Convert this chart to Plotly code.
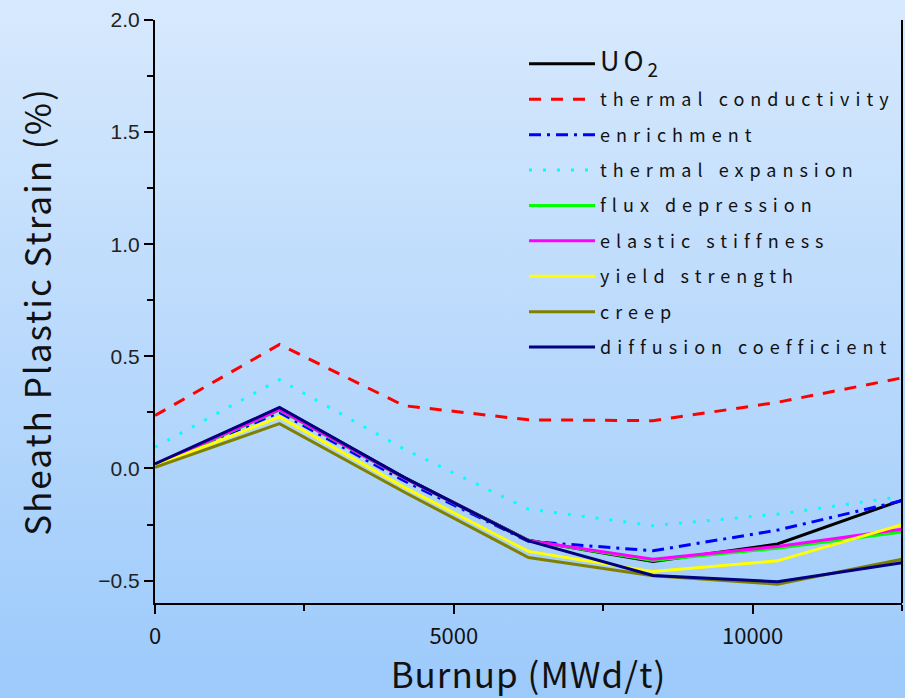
import base64
import plotly.graph_objects as go

# Burnup steps (MWd/t)
burnup = [0, 2083, 4167, 6250, 8333, 10417, 12500]

# Sheath plastic strain (%) for the reference case and each perturbed parameter
uo2 = [0.015, 0.270, -0.040, -0.320, -0.415, -0.337, -0.141]
thermal_conductivity = [0.236, 0.553, 0.280, 0.217, 0.213, 0.295, 0.404]
enrichment = [0.012, 0.250, -0.055, -0.325, -0.367, -0.275, -0.144]
thermal_expansion = [0.095, 0.396, 0.087, -0.181, -0.255, -0.204, -0.125]
flux_depression = [0.015, 0.260, -0.043, -0.322, -0.410, -0.356, -0.283]
elastic_stiffness = [0.018, 0.262, -0.042, -0.322, -0.405, -0.348, -0.271]
yield_strength = [0.010, 0.230, -0.083, -0.370, -0.460, -0.412, -0.251]
creep = [0.005, 0.200, -0.105, -0.397, -0.478, -0.516, -0.405]
diffusion_coefficient = [0.020, 0.272, -0.040, -0.323, -0.477, -0.505, -0.420]

y_ticks = [-0.5, 0.0, 0.5, 1.0, 1.5, 2.0]
y_tick_text = ["\u22120.5", "0.0", "0.5", "1.0", "1.5", "2.0"]
x_ticks = [0, 5000, 10000]
x_tick_text = ["0", "5000", "10000"]


def spaced(text, px):
    """Wrap a label so it is drawn with extra tracking between letters."""
    return f"<span style='letter-spacing:{px}px'>{text}</span>"


series = [
    ("<span style='font-size:27px;letter-spacing:4px'>UO<sub>2</sub></span>", uo2, "#000000", "solid"),
    (spaced("thermal conductivity", 6), thermal_conductivity, "#ff0000", "12px,10px"),
    (spaced("enrichment", 6), enrichment, "#0000ff", "12px,6px,3px,6px"),
    (spaced("thermal expansion", 6), thermal_expansion, "#00ffff", "3px,11px"),
    (spaced("flux depression", 6), flux_depression, "#00ff00", "solid"),
    (spaced("elastic stiffness", 6), elastic_stiffness, "#ff00ff", "solid"),
    (spaced("yield strength", 6), yield_strength, "#ffff00", "solid"),
    (spaced("creep", 6), creep, "#808000", "solid"),
    (spaced("diffusion coefficient", 6), diffusion_coefficient, "#000080", "solid"),
]

FONT = "Noto Sans CJK KR, Liberation Sans, Arial"

fig = go.Figure()
for i, (name, vals, color, dash) in enumerate(series):
    fig.add_trace(go.Scatter(
        x=burnup, y=vals, mode="lines", name=name,
        legendgroup=f"g{i}",
        line=dict(color=color, width=3, dash=dash),
    ))

# vertical light-to-sky-blue gradient behind the whole figure
grad_svg = (
    "<svg xmlns='http://www.w3.org/2000/svg' width='10' height='100' preserveAspectRatio='none'>"
    "<defs><linearGradient id='g' x1='0' y1='0' x2='0' y2='1'>"
    "<stop offset='0' stop-color='#d7e9fd'/><stop offset='1' stop-color='#9ccafb'/>"
    "</linearGradient></defs><rect width='10' height='100' fill='url(#g)'/></svg>"
)
grad_src = "data:image/svg+xml;base64," + base64.b64encode(grad_svg.encode()).decode()

fig.update_layout(
    width=905, height=698,
    margin=dict(l=155, r=3, t=20, b=95),
    paper_bgcolor="rgba(0,0,0,0)",
    plot_bgcolor="rgba(0,0,0,0)",
    font=dict(family=FONT, color="#111111"),
    images=[dict(
        source=grad_src, xref="paper", yref="paper",
        x=-155 / 747, y=1 + 20 / 583, sizex=905 / 747, sizey=698 / 583,
        xanchor="left", yanchor="top", sizing="stretch", layer="below",
    )],
    xaxis=dict(
        range=[0, 12500], tickvals=x_ticks, ticktext=x_tick_text,
        ticks="outside", ticklen=9, tickwidth=2, tickcolor="#000",
        showline=True, linecolor="#000", linewidth=2,
        showgrid=False, zeroline=False, ticklabelstandoff=4, automargin=False,
        minor=dict(tickvals=[2500, 7500, 12500], ticks="outside", ticklen=6,
                   tickwidth=2, tickcolor="#000", showgrid=False),
        tickfont=dict(size=22, family=FONT, color="#111"),
        title=dict(text=spaced("Burnup (MWd/t)", 1),
                   font=dict(size=35, family=FONT, color="#111"), standoff=28),
    ),
    yaxis=dict(
        range=[-0.6, 2.0], tickvals=y_ticks, ticktext=y_tick_text,
        ticks="outside", ticklen=9, tickwidth=2, tickcolor="#000",
        showline=True, linecolor="#000", linewidth=2,
        showgrid=False, zeroline=False, automargin=False,
        minor=dict(tickvals=[-0.25, 0.25, 0.75, 1.25, 1.75], ticks="outside", ticklen=6,
                   tickwidth=2, tickcolor="#000", showgrid=False),
        tickfont=dict(size=21, family="Liberation Sans, Arial", color="#222"),
        title=dict(text=spaced("Sheath Plastic Strain (%)", 2),
                   font=dict(size=35, family=FONT, color="#111"), standoff=36),
    ),
    shapes=[dict(type="line", xref="paper", yref="paper", x0=1, x1=1, y0=0, y1=1,
                 line=dict(color="#000", width=2))],
    legend=dict(
        x=0.494, y=0.956, xanchor="left", yanchor="top",
        bgcolor="rgba(0,0,0,0)", borderwidth=0,
        font=dict(size=18, family=FONT, color="#111"),
        itemwidth=66, traceorder="grouped", tracegroupgap=9,
    ),
    showlegend=True,
)

fig.write_html("out.html")
